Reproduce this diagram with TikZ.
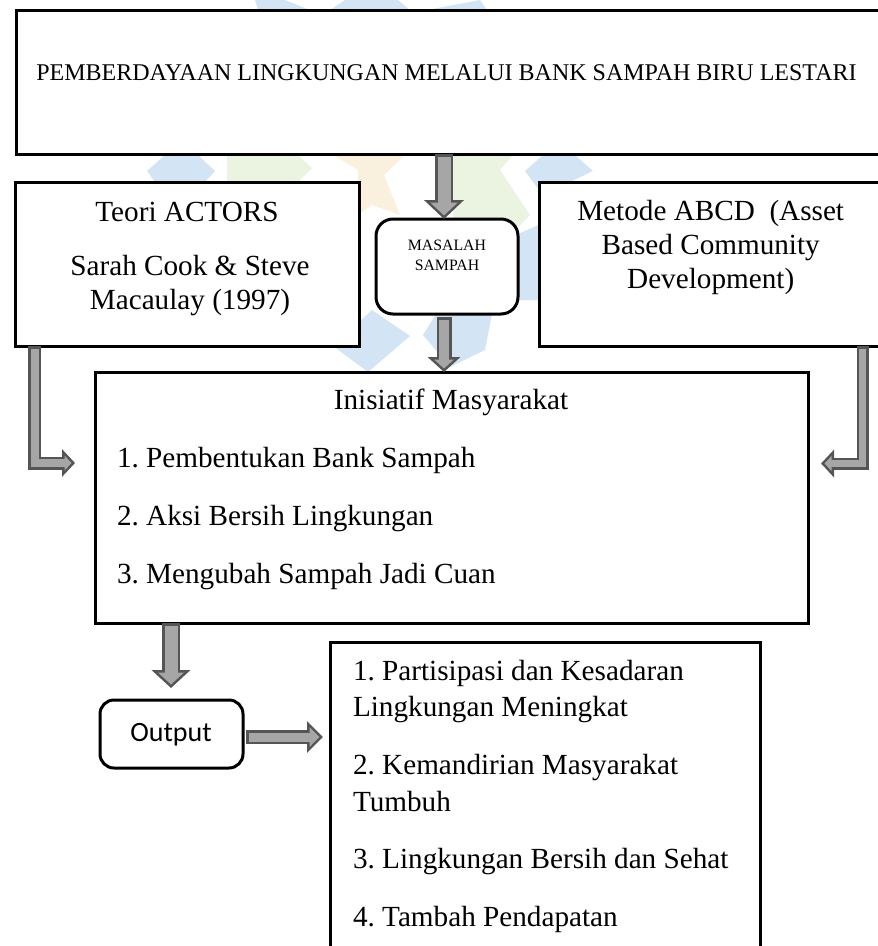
\documentclass[tikz,border=0pt]{standalone}
\usepackage{fontspec}
\setmainfont{Liberation Serif}
\newfontfamily\carlitofont{Carlito}
\usetikzlibrary{arrows.meta}
\definecolor{wmblue}{HTML}{D3E5F4}
\definecolor{wmgreen}{HTML}{EBF4E1}
\definecolor{wmorange}{HTML}{F9F0DE}
\definecolor{arrowedge}{HTML}{555555}
\definecolor{arrowfill}{HTML}{A6A6A6}
\tikzset{
  boxnode/.style={draw=black,line width=3pt,fill=white,rectangle,inner sep=0pt,outer sep=0pt,anchor=north west},
  roundnode/.style={boxnode,rounded corners=14pt},
  bodytext/.style={inner sep=0pt,outer sep=0pt,font=\frenchspacing\fontsize{29.2}{34}\selectfont},
}
% width, head width, head length, path
\newcommand{\fatarrow}[4]{%
  \pgfmathsetmacro{\inW}{#1-5}%
  \pgfmathsetmacro{\inL}{#3-6}%
  \pgfmathsetmacro{\inH}{(#3-6)*#2/#3}%
  \draw[arrowedge,line width=#1pt,-{Triangle[length=#3pt,width=#2pt]}] #4;%
  \draw[arrowfill,line width=\inW pt,-{Triangle[length=\inL pt,width=\inH pt]},shorten >=3.5pt,shorten <=2.5pt] #4;%
}
\begin{document}
\begin{tikzpicture}[x=1pt,y=-1pt]
\useasboundingbox (0,0) rectangle (878,946);
\clip (0,0) rectangle (878,946);
% watermark
\fill[wmblue] (255,0) -- (285,0) -- (310,10) -- (258,10) -- cycle;
\fill[wmblue] (345,0) -- (398,0) -- (410,10) -- (330,10) -- cycle;
\fill[wmblue] (427,10) -- (480,0) -- (487,10) -- cycle;
\fill[wmblue] (165,155) -- (198,155) -- (215,171) -- (205,182) -- (155,182) -- (147,171) -- cycle;
\fill[wmgreen] (227,155) -- (298,155) -- (312,168) -- (298,182) -- (227,182) -- cycle;
\fill[wmorange] (333,155) -- (405,155) -- (384,175) -- (400,215) -- (372,205) -- (358,215) -- (358,170) -- cycle;
\fill[wmgreen] (453,155) -- (513,155) -- (500,170) -- (530,215) -- (510,235) -- (453,219) -- cycle;
\fill[wmblue] (543,155) -- (575,155) -- (593,171) -- (570,182) -- (539,190) -- (525,171) -- cycle;
\fill[wmblue] (518,234) -- (545,222) -- (545,300) -- (518,300) -- cycle;
\fill[wmblue] (372,310) -- (410,336) -- (368,372) -- (333,346) -- cycle;
\fill[wmblue] (436,314) -- (492,314) -- (485,350) -- (450,367) -- (444,360) -- (423,335) -- cycle;
% boxes
\node[boxnode,minimum width=880pt,minimum height=144pt] (title) at (16,10) {};
\node[boxnode,minimum width=344pt,minimum height=164pt] (teori) at (15,182) {};
\node[boxnode,minimum width=360pt,minimum height=164pt] (metode) at (539,182) {};
\node[roundnode,minimum width=142pt,minimum height=95pt,rounded corners=17pt] (masalah) at (376,219) {};
\node[boxnode,minimum width=713pt,minimum height=251pt] (inisiatif) at (95,372) {};
\node[roundnode,minimum width=143pt,minimum height=68pt] (output) at (100,700) {};
\node[boxnode,minimum width=430pt,minimum height=330pt] (hasil) at (330,642) {};
% texts
\node[inner sep=0pt,anchor=base,font=\frenchspacing\fontsize{24}{28}\selectfont] (titletext) at (446.5,80) {PEMBERDAYAAN LINGKUNGAN MELALUI BANK SAMPAH BIRU LESTARI};
\node[bodytext,anchor=base] (teoritext) at (187,221) {Teori ACTORS};
\node[bodytext,anchor=base,align=center] (caritext) at (190,309) {Sarah Cook \& Steve\\Macaulay (1997)};
\node[bodytext,anchor=base,align=center] (metodetext) at (710.7,288) {Metode ABCD~~(Asset\\Based Community\\Development)};
\node[inner sep=0pt,anchor=base,align=center,font=\fontsize{15.8}{20}\selectfont] (masalahtext) at (447,270.7) {MASALAH\\SAMPAH};
\node[bodytext,anchor=base] (inisiatiftext) at (451,409) {Inisiatif Masyarakat};
\node[bodytext,anchor=base west] (i1) at (117,467) {1. Pembentukan Bank Sampah};
\node[bodytext,anchor=base west] (i2) at (117,525) {2. Aksi Bersih Lingkungan};
\node[bodytext,anchor=base west] (i3) at (117,583) {3. Mengubah Sampah Jadi Cuan};
\node[inner sep=0pt,anchor=base,font=\carlitofont\fontsize{28}{34}\selectfont] (outputtext) at (171,741.7) {Output};
\node[bodytext,anchor=base west,align=left,font=\frenchspacing\fontsize{29.2}{36.5}\selectfont] (h1) at (353,716.5) {1. Partisipasi dan Kesadaran\\Lingkungan Meningkat};
\node[bodytext,anchor=base west,align=left,font=\frenchspacing\fontsize{29.2}{36.5}\selectfont] (h2) at (353,811) {2. Kemandirian Masyarakat\\Tumbuh};
\node[bodytext,anchor=base west] (h3) at (353,868.7) {3. Lingkungan Bersih dan Sehat};
\node[bodytext,anchor=base west] (h4) at (353,926.7) {4. Tambah Pendapatan};
% connector coordinates
\coordinate (cx) at (444,0);
\coordinate (lx) at (34.5,463);
\coordinate (rx) at (862.5,463.5);
\coordinate (dx) at (171,0);
\coordinate (oy) at (0,737);
% arrows
\fatarrow{18}{39}{19}{(cx |- title.south) -- (cx |- masalah.north)}
\fatarrow{15}{32}{15}{([yshift=-3pt]cx |- masalah.south) -- (cx |- inisiatif.north)}
\fatarrow{13}{27}{13}{(lx |- teori.south) |- ([xshift=-20pt]inisiatif.west |- lx)}
\fatarrow{12}{27}{13}{(rx |- metode.south) |- ([xshift=13pt]inisiatif.east |- rx)}
\fatarrow{18}{38}{18}{(dx |- inisiatif.south) -- ([yshift=12pt]dx |- output.north)}
\fatarrow{14}{31}{16}{([xshift=3pt]output.east |- oy) -- ([xshift=-7pt]hasil.west |- oy)}
\end{tikzpicture}
\end{document}
